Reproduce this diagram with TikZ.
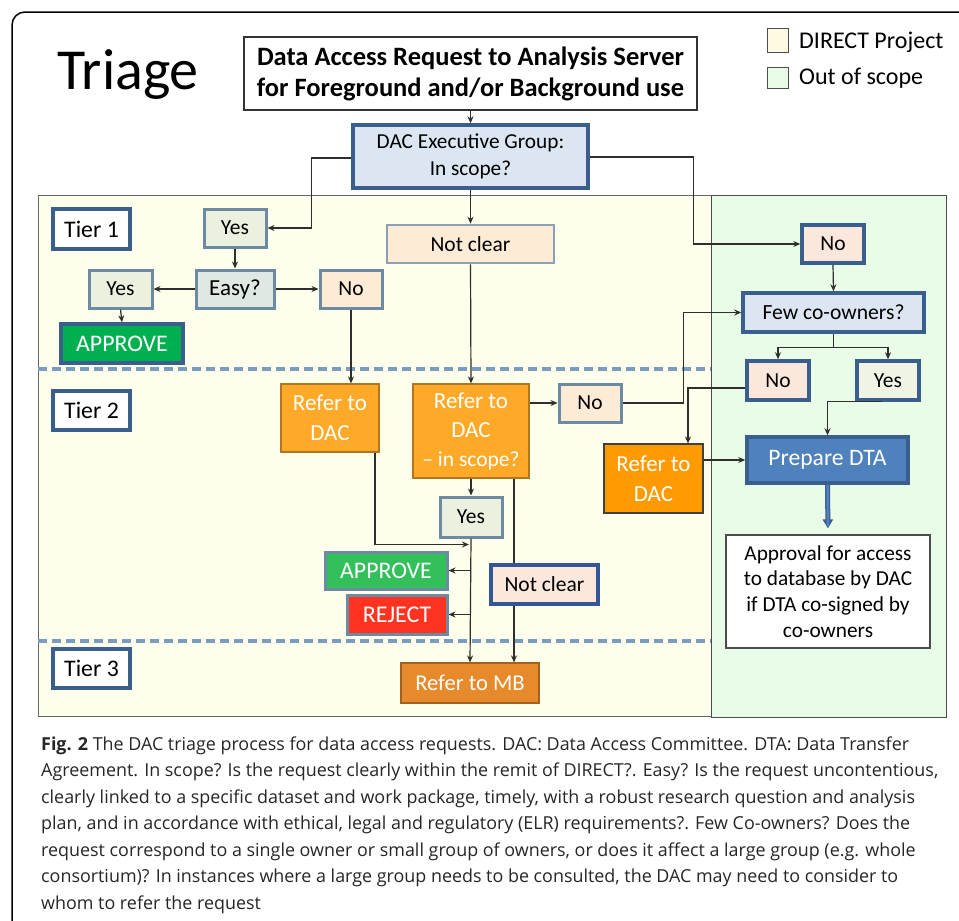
\documentclass[tikz,border=0pt]{standalone}
\usepackage{fontspec}
\setmainfont{Carlito}
\newfontfamily\capfont{Open Sans}
\usetikzlibrary{arrows.meta}
\definecolor{panelY}{HTML}{FEFEEC}
\definecolor{panelG}{HTML}{E8FCE8}
\definecolor{dashc}{HTML}{7A9CC0}
\definecolor{bdark}{HTML}{3A5F8C}
\definecolor{bgray}{HTML}{6D8AA3}
\definecolor{fyes}{HTML}{EBF1DE}
\definecolor{feasy}{HTML}{DFE8E1}
\definecolor{fpeach}{HTML}{FDEBD6}
\definecolor{fpink}{HTML}{FBE7DC}
\definecolor{fblue}{HTML}{DCE6F2}
\definecolor{forange}{HTML}{FFA928}
\definecolor{forange2}{HTML}{FF9A00}
\definecolor{fmb}{HTML}{E78A2B}
\definecolor{fdta}{HTML}{4F81BD}
\definecolor{fgreen}{HTML}{00B050}
\definecolor{fgreen2}{HTML}{33BF5A}
\definecolor{fred}{HTML}{FF3320}
\definecolor{fcream}{HTML}{FEF9E3}
\definecolor{linec}{HTML}{2E2E2A}
\tikzset{
  bx/.style={rectangle, inner sep=0pt, align=center, text=black,
    font=\fontsize{21.5}{24}\selectfont},
  thickb/.style={bx, draw=bdark, line width=3.5pt},
  grayb/.style={bx, draw=bgray, line width=3pt},
  orangeb/.style={bx, fill=forange, draw=forange!70!black, line width=1.2pt, text=white,
    font=\fontsize{23}{30}\selectfont},
  arr/.style={draw=linec, line width=1.2pt, -{Stealth[length=7pt,width=6pt]}},
  ln/.style={draw=linec, line width=1.2pt},
  tierdash/.style={draw=dashc, line width=3.5pt, dash pattern=on 9pt off 5pt},
  capline/.style={anchor=base west, inner sep=0pt, font=\capfont\fontsize{17.9}{20}\selectfont, text=black!85}
}
\begin{document}
\begin{tikzpicture}[x=1pt,y=-1pt]
\useasboundingbox (0,0) rectangle (959,921);
\begin{scope}
\clip (0,0) rectangle (959,921);
\draw[line width=1.5pt, rounded corners=13pt] (12,12) rectangle (995,935);
\end{scope}

% panels
\fill[panelY] (38,195) rectangle (711,716);
\draw[black!60, line width=1pt] (38,195) rectangle (711,716);
\fill[panelG] (711,195) rectangle (946,717);
\draw[black!70, line width=1pt] (711,195) rectangle (946,717);
\draw[tierdash] (38,369) -- (711,369);
\draw[tierdash] (38,641) -- (711,641);

% title and legend
\node[inner sep=0pt, font=\fontsize{58}{60}\selectfont] (title) at (128,75) {Triage};
\node[rectangle, inner sep=0pt, minimum width=21pt, minimum height=24pt, fill=fcream, draw=black!70, line width=1pt] (legY) at (777.5,40) {};
\node[rectangle, inner sep=0pt, minimum width=21pt, minimum height=21pt, fill=panelG, draw=black!70, line width=1pt] (legG) at (777.5,77.5) {};
\node[anchor=west, inner sep=0pt, font=\fontsize{24}{26}\selectfont] (legYt) at (799,42) {DIRECT Project};
\node[anchor=west, inner sep=0pt, font=\fontsize{24}{26}\selectfont] (legGt) at (799,78) {Out of scope};

% nodes
\node[bx, draw=black!80, line width=1.2pt, fill=white, minimum width=453pt, minimum height=73pt,
  font=\bfseries\fontsize{26.5}{31}\selectfont] (top) at (470.5,73.5)
  {Data Access Request to Analysis Server\\for Foreground and/or Background use};
\node[thickb, fill=fblue, minimum width=235pt, minimum height=63pt, font=\fontsize{21.3}{27}\selectfont] (exec) at (470.5,156.5) {DAC Executive Group:\\In scope?};

\node[thickb, fill=white, minimum width=77pt, minimum height=40pt, font=\fontsize{23.8}{24}\selectfont] (tier1) at (91.5,229) {Tier 1};
\node[thickb, fill=white, minimum width=77pt, minimum height=39pt, font=\fontsize{23.8}{24}\selectfont] (tier2) at (91.5,410.5) {Tier 2};
\node[thickb, fill=white, minimum width=77pt, minimum height=39pt, font=\fontsize{23.8}{24}\selectfont] (tier3) at (91.5,668.5) {Tier 3};

\node[grayb, fill=fyes, minimum width=62pt, minimum height=38pt] (yes1) at (235,228) {Yes};
\node[grayb, fill=feasy, minimum width=78pt, minimum height=38pt, font=\fontsize{23}{24}\selectfont] (easy) at (235,289) {Easy?};
\node[grayb, fill=fyes, minimum width=63pt, minimum height=38pt] (yesL) at (120.5,289) {Yes};
\node[grayb, fill=fpeach, minimum width=62pt, minimum height=38pt] (no1) at (351,289) {No};
\node[bx, fill=fgreen, draw=bdark, line width=3.5pt, minimum width=122pt, minimum height=39pt, text=white, font=\fontsize{23.8}{26}\selectfont] (app1) at (122,343.5) {APPROVE};
\node[bx, fill=fpeach, draw=bgray!80, line width=2.5pt, minimum width=167pt, minimum height=38pt] (nc1) at (470.5,244) {Not clear};

\node[thickb, fill=fpink, minimum width=62pt, minimum height=38pt] (noOut) at (833,244) {No};
\node[thickb, fill=fblue, minimum width=181pt, minimum height=39pt, font=\fontsize{21.6}{24}\selectfont] (few) at (833.5,312.5) {Few co-owners?};
\node[thickb, fill=fpink, minimum width=62pt, minimum height=39pt] (no2) at (778,380.5) {No};
\node[thickb, fill=fyes!80!white, minimum width=62pt, minimum height=39pt] (yes2) at (888,380.5) {Yes};

\node[orangeb, minimum width=98pt, minimum height=68pt] (ref1) at (330,418) {Refer to\\DAC};
\node[orangeb, minimum width=116pt, minimum height=94pt, font=\fontsize{23}{29}\selectfont] (ref2) at (471,431) {Refer to\\DAC\\{\fontsize{21.5}{22}\selectfont -- in scope?}};
\node[grayb, fill=fpeach, minimum width=62pt, minimum height=38pt] (no3) at (590,403) {No};
\node[orangeb, fill=forange2, draw=black!75, minimum width=99pt, minimum height=69pt] (ref3) at (653.5,478.5) {Refer to\\DAC};
\node[thickb, fill=fdta, minimum width=161pt, minimum height=46pt, text=white, font=\fontsize{23.6}{26}\selectfont] (dta) at (827.5,460) {Prepare DTA};
\node[bx, fill=white, draw=black!70, line width=1.2pt, minimum width=204pt, minimum height=113pt, font=\fontsize{21.3}{25.7}\selectfont] (appr) at (828,591.5)
  {Approval for access\\to database by DAC\\if DTA co-signed by\\co-owners};

\node[grayb, fill=fyes, minimum width=62pt, minimum height=40pt] (yes3) at (471,517) {Yes};
\node[grayb, fill=fgreen2, minimum width=122pt, minimum height=37pt, text=white, font=\fontsize{23.8}{26}\selectfont] (app2) at (386,570.5) {APPROVE};
\node[grayb, fill=fred, minimum width=100pt, minimum height=39pt, text=white, font=\fontsize{24}{26}\selectfont] (rej) at (397,614.5) {REJECT};
\node[thickb, draw=bdark!90!blue, fill=fpink, minimum width=107pt, minimum height=39pt] (nc2) at (544.5,584.5) {Not clear};
\node[orangeb, fill=fmb, draw=fmb!70!black, minimum width=138pt, minimum height=40pt, font=\fontsize{22.6}{26}\selectfont] (mb) at (470,683) {Refer to MB};

% connectors
\draw[arr] (top.south) -- (exec.north);
\draw[arr] ([yshift=-1.5pt]exec.west) -| ([xshift=44pt]yes1.east) -- (yes1.east);
\draw[arr] ([yshift=-0.5pt]exec.east) -| ([xshift=-107pt]noOut.west) -- (noOut.west);
\draw[arr] (exec.south) -- (nc1.north);
\draw[arr] (yes1.south) -- (easy.north);
\draw[arr] (easy.west) -- (yesL.east);
\draw[arr] (easy.east) -- (no1.west);
\draw[arr] (yesL.south) -- (app1.north);
\draw[arr] (no1.south) -- (no1.south |- ref1.north);
\draw[arr] (nc1.south) -- (ref2.north);
\draw[arr] (no3.west -| ref2.east) -- (no3.west);
\draw[arr] (no3.east) -- ++(61,0) |- (few.west);
\draw[arr] (noOut.south) -- (few.north);
\draw[ln] (few.south) -- ([yshift=-14pt]few.south);
\draw[arr] ([yshift=-14pt]few.south) -| (no2.north);
\draw[arr] ([yshift=-14pt]few.south) -| (yes2.north);
\draw[arr] ([yshift=-7.5pt]no2.west) -| ([xshift=34.5pt]ref3.north);
\draw[arr] ([xshift=-6pt]yes2.south) -| (dta.north);
\draw[arr] (ref3.east |- dta.west) -- (dta.west);
\draw[draw=bdark, line width=5pt, shorten >=6pt, -{Triangle[length=9pt,width=10pt]}] (dta.south) -- (appr.north);
\draw[line width=2.5pt, fdta, shorten >=8pt] (dta.south) -- (appr.north);
\draw[arr] (ref2.south) -- (yes3.north);
\draw[arr] ([xshift=45pt]ref1.south) |- ([xshift=-2pt,yshift=-6pt]yes3.south);
\draw[arr] (yes3.south) -- (mb.north);
\draw[arr] (app2.east -| yes3.south) -- (app2.east);
\draw[arr] (rej.east -| yes3.south) -- (rej.east);
\draw[ln] ([xshift=43pt]ref2.south) -- ([xshift=43pt]ref2.south |- nc2.north);
\draw[arr] ([xshift=-30.5pt]nc2.south) -- ([xshift=-30.5pt]nc2.south |- mb.north);

% caption
\node[capline] (cap1) at (41,750) {\textbf{Fig. 2} The DAC triage process for data access requests. DAC: Data Access Committee. DTA: Data Transfer};
\node[capline] (cap2) at (41,776.5) {Agreement. In scope? Is the request clearly within the remit of DIRECT?. Easy? Is the request uncontentious,};
\node[capline] (cap3) at (41,803) {clearly linked to a specific dataset and work package, timely, with a robust research question and analysis};
\node[capline] (cap4) at (41,829.5) {plan, and in accordance with ethical, legal and regulatory (ELR) requirements?. Few Co-owners? Does the};
\node[capline] (cap5) at (41,856) {request correspond to a single owner or small group of owners, or does it affect a large group (e.g. whole};
\node[capline] (cap6) at (41,882.5) {consortium)? In instances where a large group needs to be consulted, the DAC may need to consider to};
\node[capline] (cap7) at (41,909) {whom to refer the request};
\end{tikzpicture}
\end{document}
